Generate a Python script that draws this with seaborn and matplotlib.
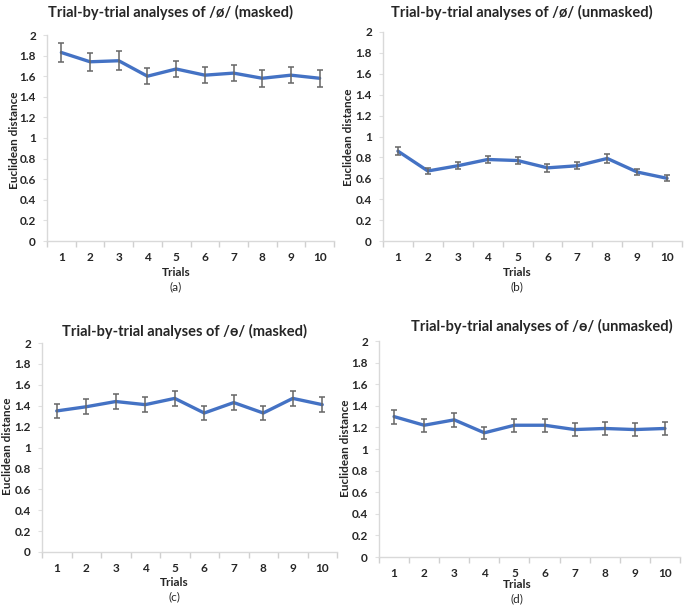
import numpy as np
import pandas as pd
import seaborn as sns
import matplotlib.pyplot as plt

trials = [1, 2, 3, 4, 5, 6, 7, 8, 9, 10]

mean_a = [1.83, 1.74, 1.75, 1.60, 1.67, 1.61, 1.63, 1.58, 1.61, 1.58]
err_a = [0.09, 0.09, 0.09, 0.08, 0.08, 0.08, 0.08, 0.08, 0.08, 0.08]
mean_b = [0.86, 0.67, 0.72, 0.78, 0.77, 0.70, 0.72, 0.79, 0.66, 0.60]
err_b = [0.04, 0.03, 0.035, 0.035, 0.035, 0.035, 0.035, 0.04, 0.03, 0.03]
mean_c = [1.35, 1.39, 1.44, 1.41, 1.47, 1.33, 1.43, 1.33, 1.47, 1.41]
err_c = [0.07, 0.07, 0.07, 0.07, 0.07, 0.065, 0.07, 0.065, 0.07, 0.07]
mean_d = [1.30, 1.22, 1.27, 1.15, 1.22, 1.22, 1.18, 1.19, 1.18, 1.19]
err_d = [0.065, 0.06, 0.065, 0.055, 0.06, 0.06, 0.06, 0.06, 0.06, 0.06]

titles = ['Trial-by-trial analyses of /ø/ (masked)',
          'Trial-by-trial analyses of /ø/ (unmasked)',
          'Trial-by-trial analyses of /ɵ/ (masked)',
          'Trial-by-trial analyses of /ɵ/ (unmasked)']
letters = ['(a)', '(b)', '(c)', '(d)']

W, H = 685, 609
sns.set_theme(style="white")
plt.rcParams['font.family'] = ['Lato', 'DejaVu Sans']

fig = plt.figure(figsize=(W / 100, H / 100), dpi=100)

# pixel layout: axes box (left, top, right, bottom), title (x, y), trials (x, y), letter y, ylabel (x, y)
panels = [
    dict(m=mean_a, e=err_a, box=(47, 35, 334, 241), tt=(170, 12), tr=(176, 273), lt=287, yl=(15, 140)),
    dict(m=mean_b, e=err_b, box=(383, 32, 682, 241), tt=(522, 12), tr=(517, 273), lt=287, yl=(349, 137)),
    dict(m=mean_c, e=err_c, box=(42, 343, 337, 552), tt=(184, 331), tr=(174, 582), lt=597, yl=(8, 446)),
    dict(m=mean_d, e=err_d, box=(379, 341, 680, 557), tt=(542, 326), tr=(517, 585), lt=599, yl=(345, 448)),
]

for i, p in enumerate(panels):
    l, t, r, b = p['box']
    ax = fig.add_axes([l / W, 1 - b / H, (r - l) / W, (b - t) / H])
    df = pd.DataFrame({'Trial': trials, 'Distance': p['m']})
    sns.lineplot(data=df, x='Trial', y='Distance', ax=ax, color='#4472C4', linewidth=2.4)
    ax.errorbar(trials, p['m'], yerr=p['e'], fmt='none', ecolor='#666666',
                elinewidth=1.1, capsize=2.3, capthick=1.1, zorder=3)
    ax.set_xlim(0.5, 10.5)
    ax.set_ylim(0, 2)
    ax.set_yticks(np.arange(0, 2.01, 0.2))
    ax.set_yticklabels(['0', '0.2', '0.4', '0.6', '0.8', '1', '1.2', '1.4', '1.6', '1.8', '2'])
    ax.set_xticks(trials)
    ax.set_xticks(np.arange(0.5, 10.6, 1), minor=True)
    ax.tick_params(axis='x', which='major', length=0, pad=8, labelsize=8.5)
    ax.tick_params(axis='x', which='minor', length=4, width=1, color='#d0d0d0', direction='out', bottom=True)
    ax.tick_params(axis='y', length=3, width=0.8, color='#e0e0e0', direction='out', left=True, pad=5, labelsize=8.5)
    for lab in ax.get_xticklabels() + ax.get_yticklabels():
        lab.set_fontweight('bold')
        lab.set_color('#262626')
    for s in ['top', 'right']:
        ax.spines[s].set_visible(False)
    for s in ['left', 'bottom']:
        ax.spines[s].set_color('#d9d9d9')
        ax.spines[s].set_linewidth(1)
    ax.set_xlabel('')
    ax.set_ylabel('')

    fig.text(p['tt'][0] / W, 1 - p['tt'][1] / H, titles[i], ha='center', va='center',
             fontsize=10.5, fontweight='bold', color='#262626')
    fig.text(p['tr'][0] / W, 1 - p['tr'][1] / H, 'Trials', ha='center', va='center',
             fontsize=8.5, fontweight='bold', color='#262626')
    fig.text(p['tr'][0] / W, 1 - p['lt'] / H, letters[i], ha='center', va='center',
             fontsize=8.5, color='#262626')
    fig.text(p['yl'][0] / W, 1 - p['yl'][1] / H, 'Euclidean distance', ha='center', va='center',
             rotation=90, fontsize=8.5, fontweight='bold', color='#262626')

fig.savefig('out.png', dpi=100)
